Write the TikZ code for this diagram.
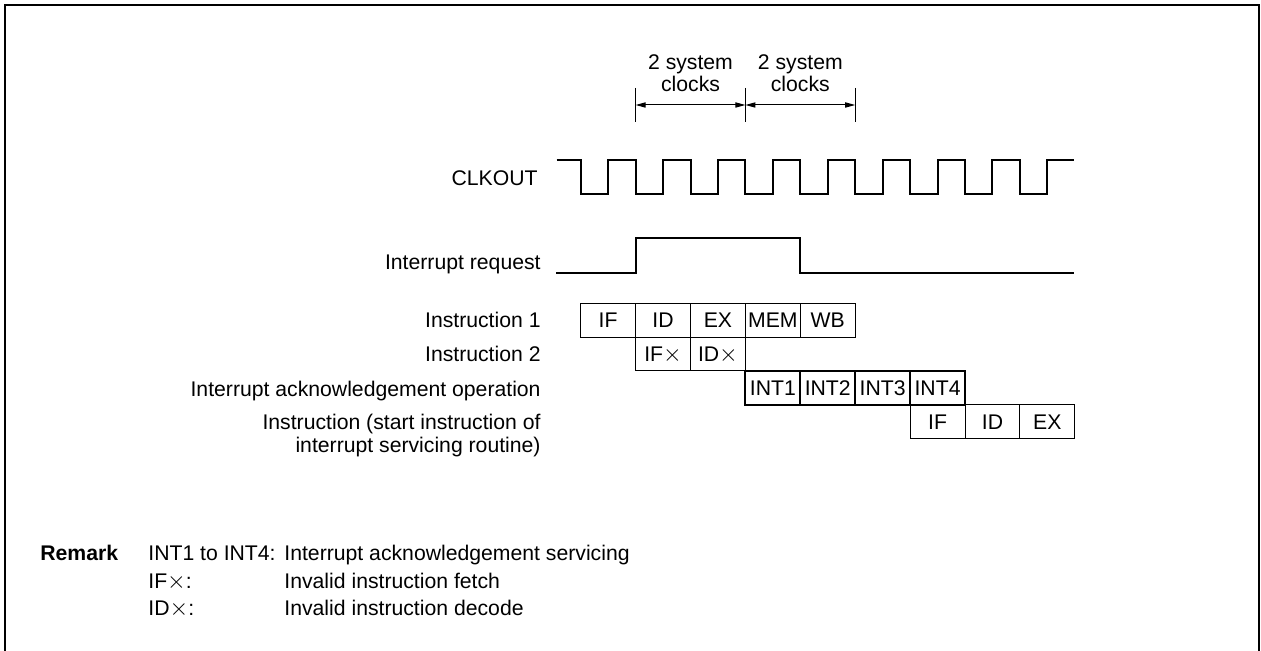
\documentclass[tikz,border=0pt]{standalone}
\usepackage{fontspec}
\setmainfont{Liberation Sans}
\usetikzlibrary{arrows.meta}
\newcommand{\bigx}{{\fontsize{13}{13}\selectfont$\times$}}
\begin{document}
\begin{tikzpicture}[x=0.5pt,y=-0.5pt,
  every node/.style={font=\fontsize{10.6}{12}\selectfont, inner sep=0pt},
  lbl/.style={anchor=base east},
  rtxt/.style={anchor=base west},
  cell/.style={draw, line width=0.5pt, minimum width=27.45pt, minimum height=16.9pt,
    text height=7.6pt, text depth=0pt, anchor=center},
  intcell/.style={cell, line width=1pt},
  wave/.style={line width=1pt},
  dimline/.style={line width=0.5pt},
  dimarrow/.style={line width=0.5pt, {Triangle[length=5pt,width=2.6pt]}-{Triangle[length=5pt,width=2.6pt]}},
  frameline/.style={line width=1pt}]
\useasboundingbox (0,0) rectangle (1261,651);
\draw[frameline] (5,660) -- (5,5) -- (1259,5) -- (1259,660);

% dimension marks
\coordinate (d0) at (635.6,88);
\coordinate (d1) at (745.4,88);
\coordinate (d2) at (855.2,88);
\coordinate (e0) at (635.6,122);
\coordinate (e1) at (745.4,122);
\coordinate (e2) at (855.2,122);
\coordinate (a0) at (635.6,105);
\coordinate (a1) at (745.4,105);
\coordinate (a2) at (855.2,105);
\draw[dimline] (d0) -- (e0);
\draw[dimline] (d1) -- (e1);
\draw[dimline] (d2) -- (e2);
\draw[dimarrow] (a0) -- (a1);
\draw[dimarrow] (a1) -- (a2);
\node[anchor=base] (t1a) at (690.5,69.5) {2 system};
\node[anchor=base] (t1b) at (690.5,92) {clocks};
\node[anchor=base] (t2a) at (800.3,69.5) {2 system};
\node[anchor=base] (t2b) at (800.3,92) {clocks};

% clock
\draw[wave] (556.7,160.5)
  \foreach \k in {0,...,8} { -- ({580.7+54.9*\k},160.5) -- ++(0,33.5) -- ++(27.45,0) -- ++(0,-33.5) }
  -- (1074,160.5);
% interrupt request
\draw[wave] (556,272.7) -- (635.6,272.7) -- (635.6,238.5) -- (800.3,238.5) -- (800.3,272.7) -- (1074,272.7);

% labels
\node[lbl] (clk) at (538,185.6) {CLKOUT};
\node[lbl] (irq) at (541,269.6) {Interrupt request};
\node[lbl] (i1) at (541,327.6) {Instruction 1};
\node[lbl] (i2) at (541,361.4) {Instruction 2};
\node[lbl] (iack) at (541,396.2) {Interrupt acknowledgement operation};
\node[lbl] (is1) at (541,429.6) {Instruction (start instruction of};
\node[lbl] (is2) at (541,452.6) {interrupt servicing routine)};

% row 1
\node[cell] (r1a) at (608.15,320.25) {IF};
\node[cell] (r1b) at (663.05,320.25) {ID};
\node[cell] (r1c) at (717.95,320.25) {EX};
\node[cell] (r1d) at (772.85,320.25) {MEM};
\node[cell] (r1e) at (827.75,320.25) {WB};
% row 2
\node[cell] (r2a) at (663.05,354.05) {IF\bigx};
\node[cell] (r2b) at (717.95,354.05) {ID\bigx};
% row 4
\node[cell] (r4a) at (937.55,421.65) {IF};
\node[cell] (r4b) at (992.45,421.65) {ID};
\node[cell] (r4c) at (1047.35,421.65) {EX};
% row 3
\node[intcell] (r3a) at (772.85,387.85) {INT1};
\node[intcell] (r3b) at (827.75,387.85) {INT2};
\node[intcell] (r3c) at (882.65,387.85) {INT3};
\node[intcell] (r3d) at (937.55,387.85) {INT4};

% remark
\node[rtxt, font=\fontsize{10.6}{12}\selectfont\bfseries] (rem) at (40,560.6) {Remark};
\node[rtxt] (k1) at (148,560.6) {INT1 to INT4:};
\node[rtxt] (v1) at (284,560.6) {Interrupt acknowledgement servicing};
\node[rtxt] (k2) at (148,588.4) {IF\bigx:};
\node[rtxt] (v2) at (284,588.4) {Invalid instruction fetch};
\node[rtxt] (k3) at (148,615.8) {ID\bigx:};
\node[rtxt] (v3) at (284,615.8) {Invalid instruction decode};
\end{tikzpicture}
\end{document}
